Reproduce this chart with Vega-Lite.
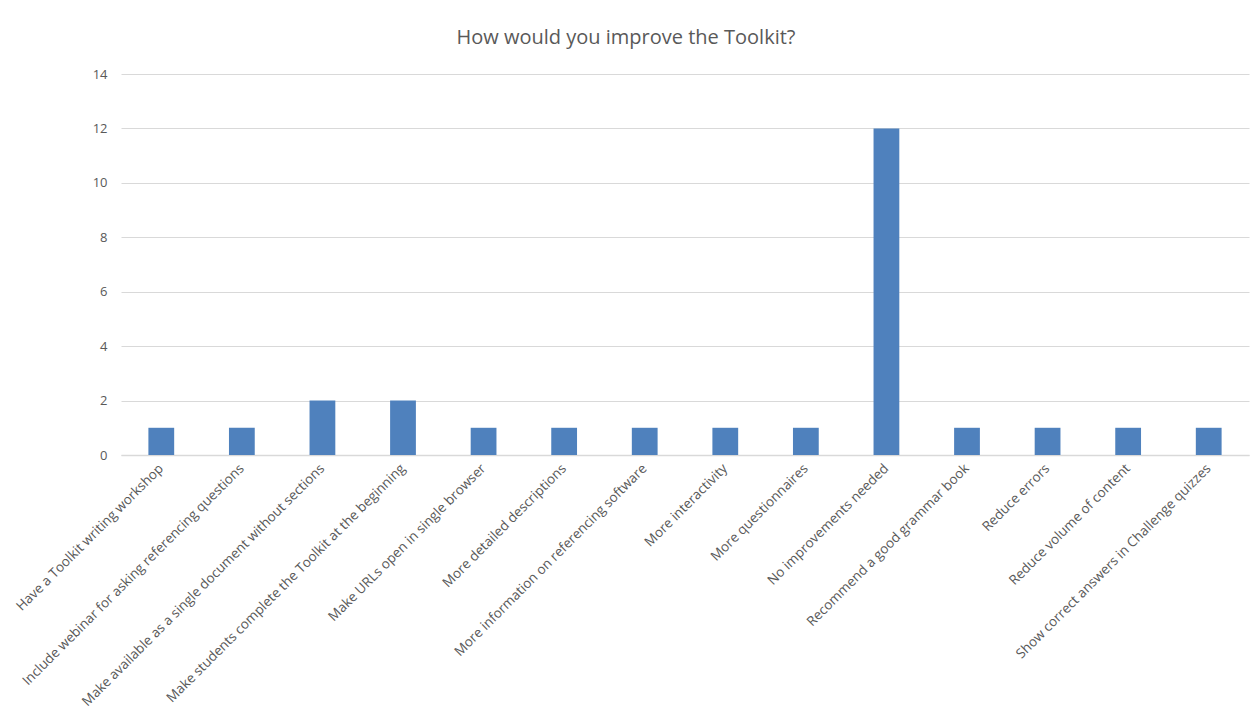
{
  "$schema": "https://vega.github.io/schema/vega-lite/v6.json",
  "autosize": {"type": "none"},
  "width": 1128,
  "height": 381,
  "padding": {"left": 121, "top": 74, "right": 4, "bottom": 271},
  "background": "white",
  "title": {
    "text": "How would you improve the Toolkit?",
    "fontSize": 20,
    "font": "Open Sans",
    "fontWeight": "normal",
    "color": "#595959",
    "offset": 20,
    "anchor": "middle",
    "dx": -59
  },
  "data": {
    "values": [
      {"category": "Have a Toolkit writing workshop", "count": 1},
      {"category": "Include webinar for asking referencing questions", "count": 1},
      {"category": "Make available as a single document without sections", "count": 2},
      {"category": "Make students complete the Toolkit at the beginning", "count": 2},
      {"category": "Make URLs open in single browser", "count": 1},
      {"category": "More detailed descriptions", "count": 1},
      {"category": "More information on referencing software", "count": 1},
      {"category": "More interactivity", "count": 1},
      {"category": "More questionnaires", "count": 1},
      {"category": "No improvements needed", "count": 12},
      {"category": "Recommend a good grammar book", "count": 1},
      {"category": "Reduce errors", "count": 1},
      {"category": "Reduce volume of content", "count": 1},
      {"category": "Show correct answers in Challenge quizzes", "count": 1}
    ]
  },
  "mark": {"type": "bar", "color": "#4F81BD"},
  "encoding": {
    "x": {
      "field": "category",
      "type": "nominal",
      "sort": null,
      "scale": {"paddingInner": 0.68, "paddingOuter": 0.34},
      "axis": {
        "title": null,
        "labelAngle": -45,
        "labelAlign": "right",
        "labelBaseline": "middle",
        "labelFont": "Open Sans",
        "labelFontSize": 13.5,
        "labelColor": "#595959",
        "labelLimit": 0,
        "labelPadding": 11,
        "ticks": false,
        "domain": true,
        "domainColor": "#D9D9D9",
        "domainWidth": 1.3
      }
    },
    "y": {
      "field": "count",
      "type": "quantitative",
      "scale": {"domain": [0, 14], "nice": false},
      "axis": {
        "title": null,
        "values": [0, 2, 4, 6, 8, 10, 12, 14],
        "labelFont": "Open Sans",
        "labelFontSize": 13,
        "labelColor": "#595959",
        "labelPadding": 14,
        "ticks": false,
        "domain": false,
        "gridColor": "#D9D9D9",
        "gridWidth": 1
      }
    }
  },
  "config": {"view": {"stroke": null}}
}
